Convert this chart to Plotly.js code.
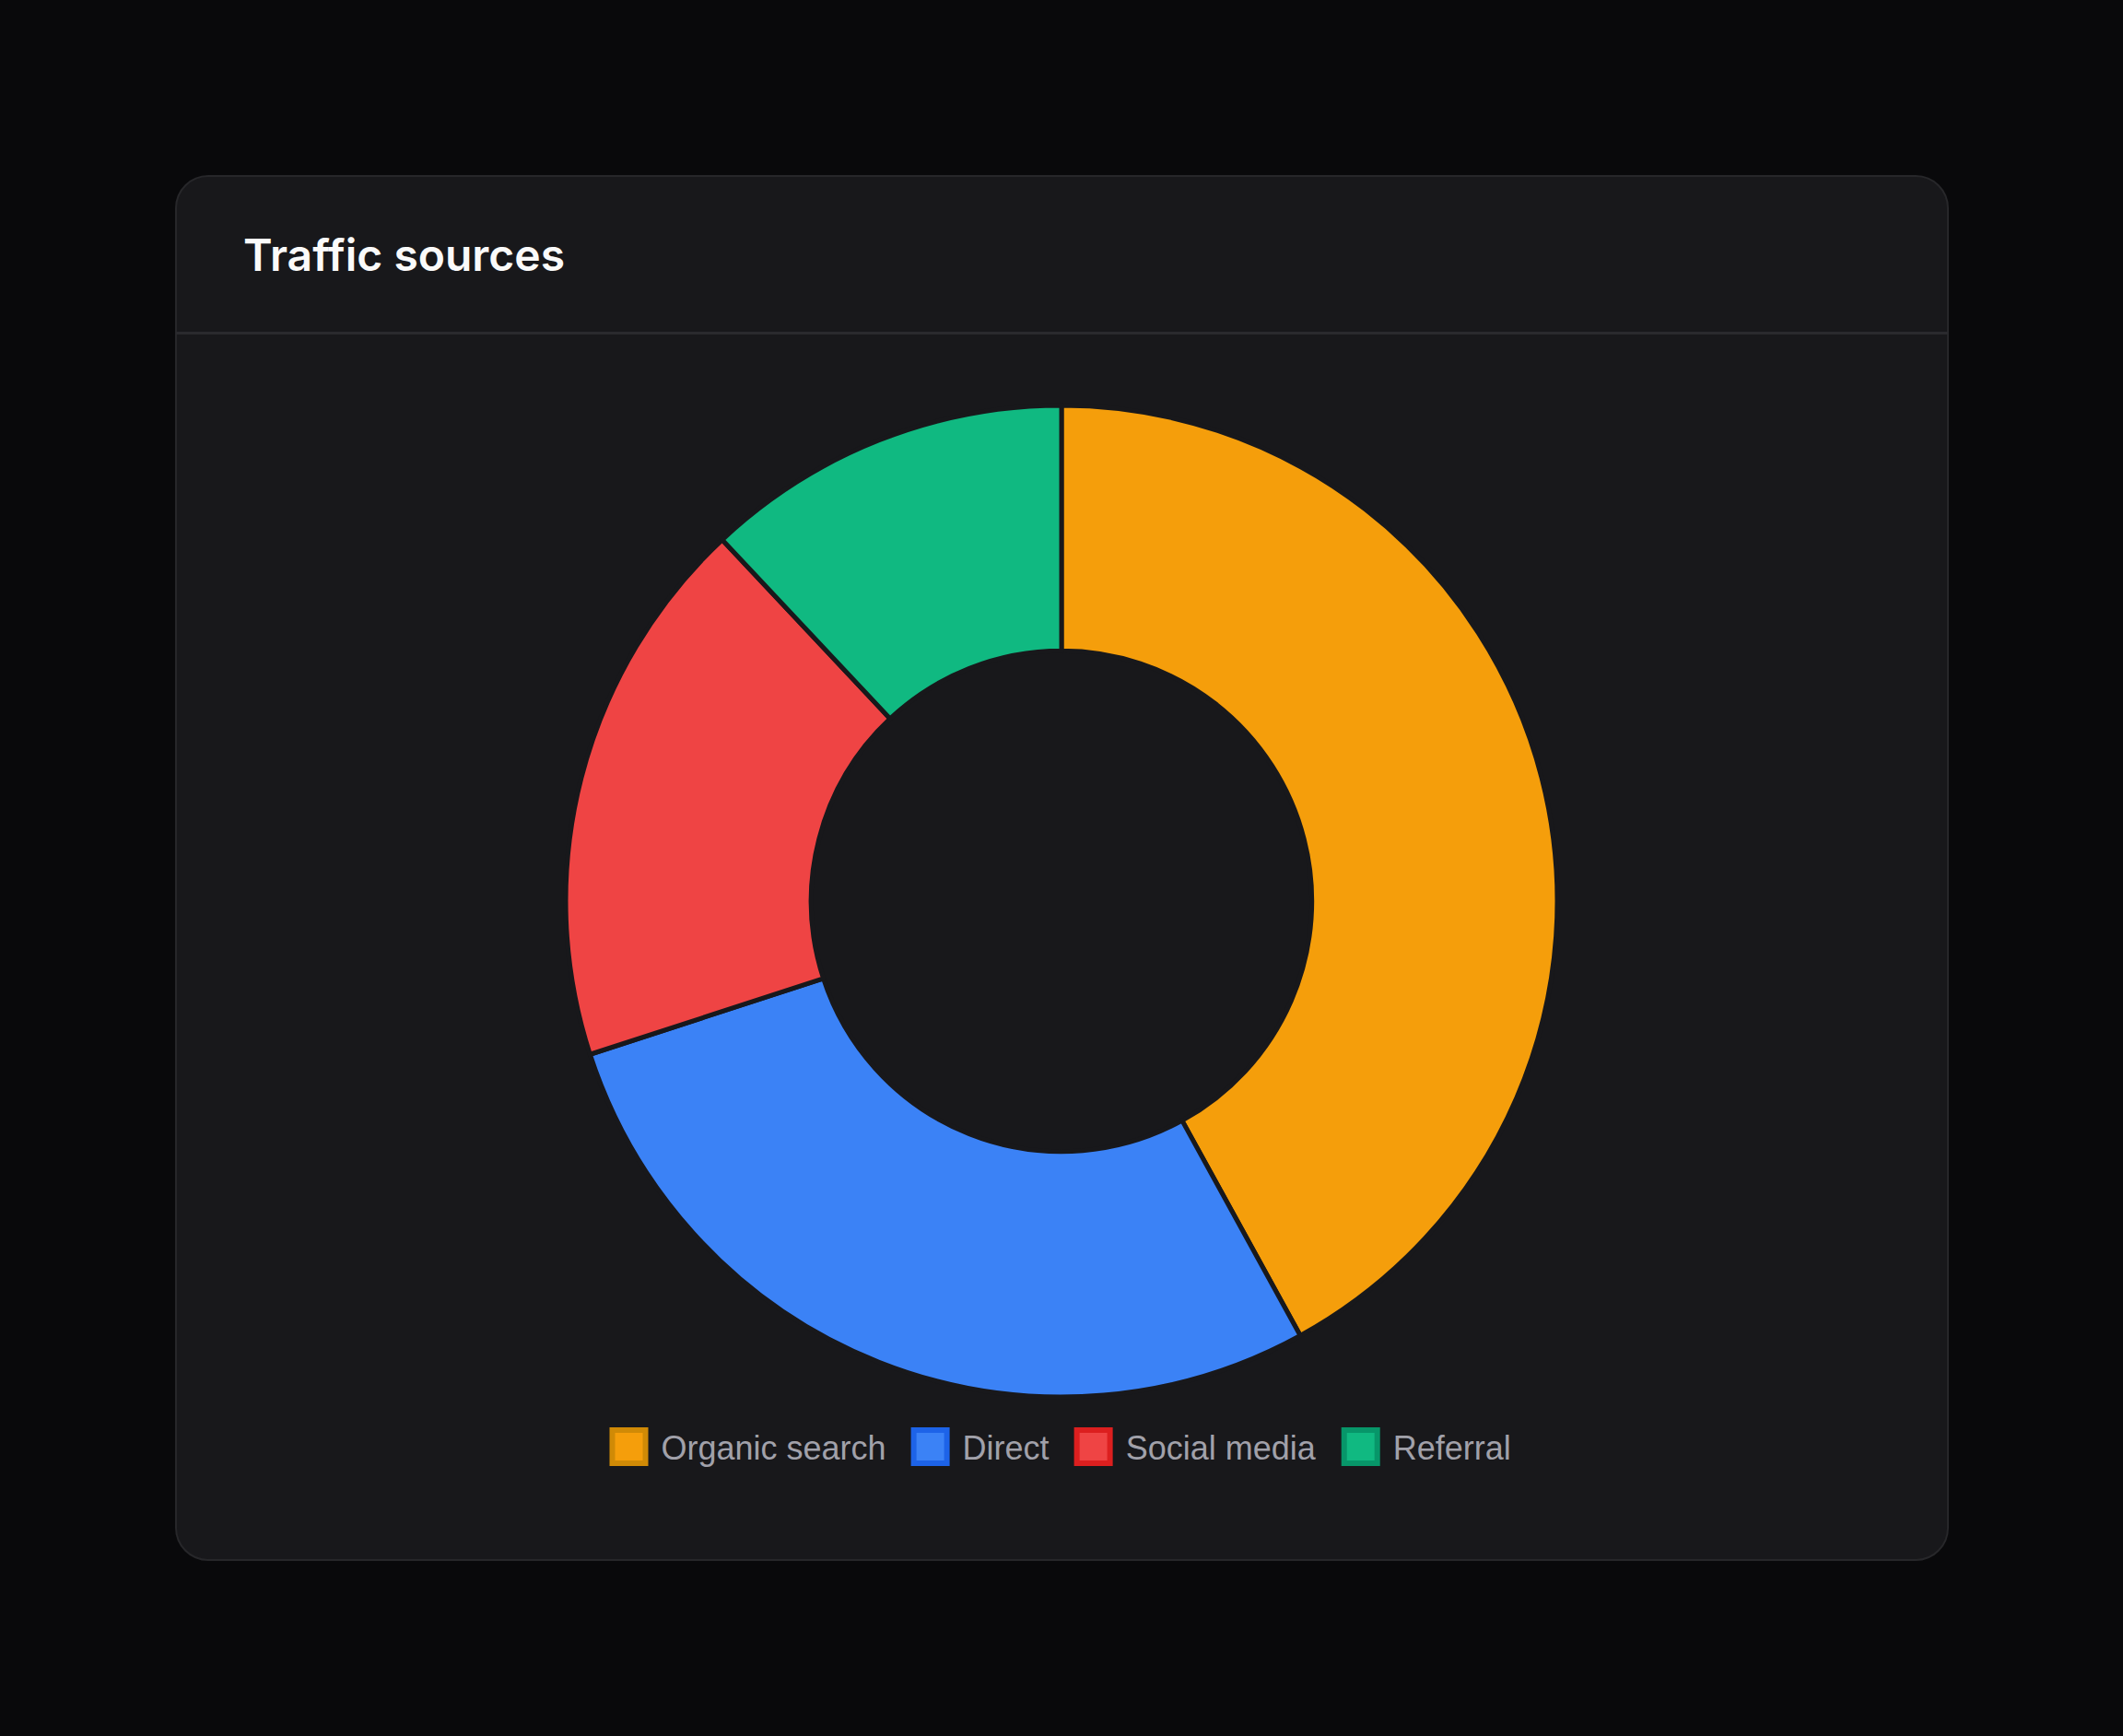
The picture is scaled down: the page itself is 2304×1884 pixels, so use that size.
<!DOCTYPE html>
<html>
<head>
<meta charset="utf-8">
<script src="https://cdn.plot.ly/plotly-3.0.1.min.js"></script>
<style>
  html, body { margin:0; padding:0; background:#09090b; width:2304px; height:1884px; overflow:hidden; }
  #card { position:absolute; left:190px; top:190px; width:1925px; height:1504px; background:#18181b;
          border:2px solid #27272a; border-radius:36px; box-sizing:border-box; }
  #sep { position:absolute; left:191px; top:360px; width:1923px; height:3px; background:#2a2a2e; }
  #chart { position:absolute; left:0; top:0; width:2304px; height:1884px; }
</style>
</head>
<body>
<div id="card"></div>
<div id="sep"></div>
<div id="chart"></div>
<script>
const categories = ["Organic search", "Direct", "Social media", "Referral"];
const shares = [42, 28, 18, 12];
const fillColors = ["#f59e0b", "#3b82f6", "#ef4444", "#10b981"];
const legendBorderColors = ["#d08a06", "#1d63e8", "#dc1f1f", "#079669"];
const chartTitle = "Traffic sources";

const trace = {
  type: "pie",
  labels: categories,
  values: shares,
  hole: 0.505,
  sort: false,
  direction: "clockwise",
  rotation: 0,
  textinfo: "none",
  hoverinfo: "label+percent",
  marker: { colors: fillColors, line: { color: "#18181b", width: 5 } },
  domain: { x: [614/2304, 1690/2304], y: [1 - 1516/1884, 1 - 440/1884] }
};

const layout = {
  width: 2304, height: 1884,
  margin: { l: 0, r: 0, t: 0, b: 0 },
  paper_bgcolor: "rgba(0,0,0,0)",
  plot_bgcolor: "rgba(0,0,0,0)",
  title: {
    text: chartTitle,
    x: 264/2304, xref: "paper", xanchor: "left",
    y: 1 - 277/1884, yref: "paper", yanchor: "middle",
    font: { family: "Inter, 'Noto Sans', sans-serif", size: 48, color: "#fafafa", weight: 600 }
  },
  showlegend: true,
  legend: {
    orientation: "h",
    x: 0.5 - 9.5/2304, xanchor: "center",
    y: 1 - 1570/1884, yanchor: "middle",
    font: { family: "'Liberation Sans', Arial, sans-serif", size: 36, color: "#a1a1aa" },
    itemwidth: 68,
    bgcolor: "rgba(0,0,0,0)",
    traceorder: "normal"
  }
};

Plotly.newPlot("chart", [trace], layout, { displayModeBar: false, staticPlot: true }).then(function (gd) {
  const syms = gd.querySelectorAll(".legendpoints path.legendpie");
  syms.forEach(function (p, i) {
    p.setAttribute("d", "M22,18H-14V-18H22Z");
    p.style.strokeWidth = "6px";
    p.style.stroke = legendBorderColors[i];
    p.style.fill = fillColors[i];
  });
});
</script>
</body>
</html>
